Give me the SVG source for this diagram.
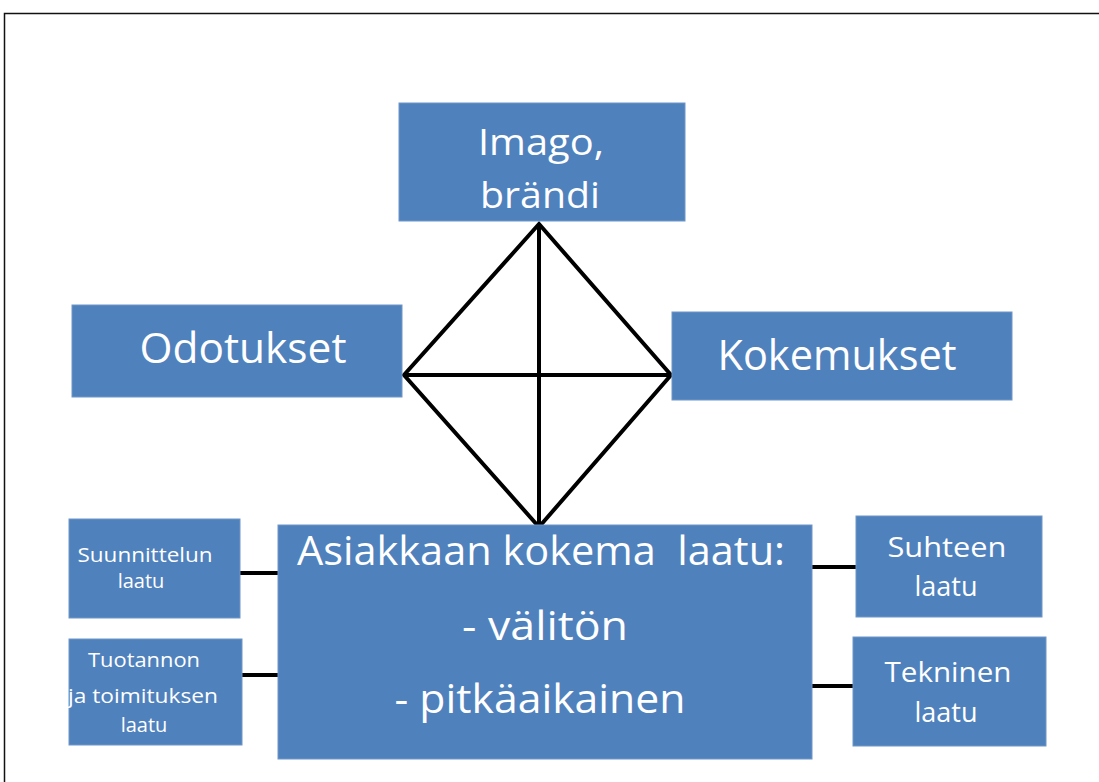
<svg xmlns="http://www.w3.org/2000/svg" width="1099" height="782" viewBox="0 0 1099 782">
<style>
.box{fill:#4F81BD;stroke:#6f96c8;stroke-width:1}
.t{fill:#ffffff;font-family:"Open Sans","Liberation Sans",sans-serif;text-anchor:middle}
.big{font-size:42px}
.img{font-size:37px}
.mid{font-size:40px}
.sm{font-size:27px}
.xs{font-size:20px}
.c{stroke:#000;stroke-width:4;fill:none}
</style>
<rect width="1099" height="782" fill="#fff"/>
<rect x="4.5" y="13.5" width="1200" height="900" fill="none" stroke="#111" stroke-width="1.5"/>
<g id="connectors">
<path class="c" d="M539,224 L404,375 L539,527 L671,375 Z"/>
<line class="c" x1="539" y1="224" x2="539" y2="527"/>
<line class="c" x1="404" y1="375" x2="671" y2="375"/>
<line class="c" x1="240" y1="573" x2="278" y2="573"/>
<line class="c" x1="242" y1="675" x2="278" y2="675"/>
<line class="c" x1="812" y1="567" x2="856" y2="567"/>
<line class="c" x1="812" y1="686" x2="853" y2="686"/>
</g>
<g id="imago">
<rect class="box" x="399" y="103" width="286" height="118"/>
<text class="t img" x="541" y="155" textLength="126" lengthAdjust="spacingAndGlyphs">Imago,</text>
<text class="t img" x="540" y="208" textLength="120" lengthAdjust="spacingAndGlyphs">brändi</text>
</g>
<g id="odotukset">
<rect class="box" x="72" y="305" width="330" height="92"/>
<text class="t big" x="243" y="363" textLength="207" lengthAdjust="spacingAndGlyphs">Odotukset</text>
</g>
<g id="kokemukset">
<rect class="box" x="672" y="312" width="340" height="88"/>
<text class="t big" x="837" y="370" textLength="239" lengthAdjust="spacingAndGlyphs">Kokemukset</text>
</g>
<g id="main">
<rect class="box" x="278" y="525" width="534" height="234"/>
<text class="t mid" x="541" y="565" textLength="488" lengthAdjust="spacingAndGlyphs" xml:space="preserve">Asiakkaan kokema  laatu:</text>
<text class="t mid" x="545" y="640" textLength="166" lengthAdjust="spacingAndGlyphs">- välitön</text>
<text class="t mid" x="540" y="713" textLength="291" lengthAdjust="spacingAndGlyphs">- pitkäaikainen</text>
</g>
<g id="suunnittelun">
<rect class="box" x="69" y="519" width="171" height="99"/>
<text class="t xs" x="145" y="562" textLength="135" lengthAdjust="spacingAndGlyphs">Suunnittelun</text>
<text class="t xs" x="141" y="588">laatu</text>
</g>
<g id="tuotannon">
<rect class="box" x="69" y="639" width="173" height="106"/>
<text class="t xs" x="144" y="667" textLength="112" lengthAdjust="spacingAndGlyphs">Tuotannon</text>
<text class="t xs" x="143" y="703" textLength="150" lengthAdjust="spacingAndGlyphs">ja toimituksen</text>
<text class="t xs" x="144" y="732">laatu</text>
</g>
<g id="suhteen">
<rect class="box" x="856" y="516" width="186" height="101"/>
<text class="t sm" x="947" y="557" textLength="119" lengthAdjust="spacingAndGlyphs">Suhteen</text>
<text class="t sm" x="946" y="596">laatu</text>
</g>
<g id="tekninen">
<rect class="box" x="853" y="637" width="193" height="109"/>
<text class="t sm" x="948" y="682" textLength="127" lengthAdjust="spacingAndGlyphs">Tekninen</text>
<text class="t sm" x="946" y="722">laatu</text>
</g>
</svg>
